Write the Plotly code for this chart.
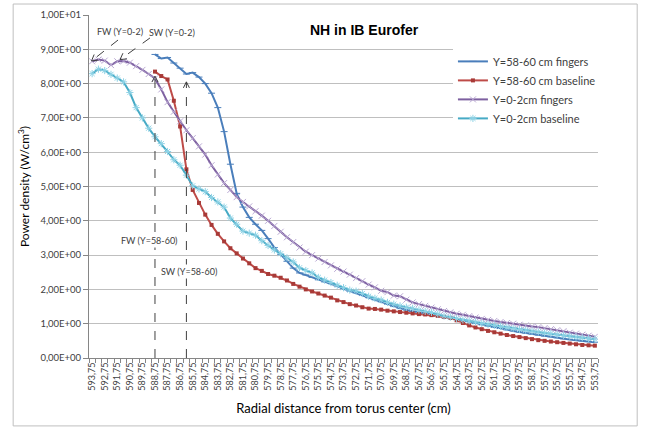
import plotly.graph_objects as go

# Radial distance categories (cm), every 0.5 cm
radial = [593.75, 593.25, 592.75, 592.25, 591.75, 591.25, 590.75, 590.25, 589.75, 589.25,
          588.75, 588.25, 587.75, 587.25, 586.75, 586.25, 585.75, 585.25, 584.75, 584.25,
          583.75, 583.25, 582.75, 582.25, 581.75, 581.25, 580.75, 580.25, 579.75, 579.25,
          578.75, 578.25, 577.75, 577.25, 576.75, 576.25, 575.75, 575.25, 574.75, 574.25,
          573.75, 573.25, 572.75, 572.25, 571.75, 571.25, 570.75, 570.25, 569.75, 569.25,
          568.75, 568.25, 567.75, 567.25, 566.75, 566.25, 565.75, 565.25, 564.75, 564.25,
          563.75, 563.25, 562.75, 562.25, 561.75, 561.25, 560.75, 560.25, 559.75, 559.25,
          558.75, 558.25, 557.75, 557.25, 556.75, 556.25, 555.75, 555.25, 554.75, 554.25,
          553.75]

N = None
y58_fingers = [N, N, N, N, N, N, N, N, N, N,
               8.85, 8.73, 8.76, 8.60, 8.45, 8.28, 8.32, 8.19, 8.00, 7.72,
               7.30, 6.60, 5.65, 4.80, 4.40, 4.10, 3.90, 3.72, 3.48, 3.22,
               3.02, 2.82, 2.62, 2.48, 2.42, 2.35, 2.28, 2.22, 2.18, 2.10,
               2.02, 1.95, 1.90, 1.83, 1.76, 1.70, 1.64, 1.57, 1.50, 1.44,
               1.40, 1.36, 1.33, 1.30, 1.27, 1.24, 1.21, 1.19, 1.14, 1.10,
               1.06, 1.01, 0.97, 0.93, 0.89, 0.86, 0.82, 0.79, 0.76, 0.73,
               0.70, 0.67, 0.64, 0.62, 0.59, 0.56, 0.54, 0.52, 0.50, 0.48,
               0.46]

y58_baseline = [N, N, N, N, N, N, N, N, N, N,
                8.35, 8.22, 8.12, 7.50, 6.75, 5.50, 4.90, 4.52, 4.18, 3.88,
                3.62, 3.40, 3.20, 3.05, 2.90, 2.76, 2.62, 2.54, 2.45, 2.40,
                2.34, 2.26, 2.16, 2.08, 2.00, 1.94, 1.88, 1.82, 1.76, 1.68,
                1.63, 1.57, 1.53, 1.48, 1.44, 1.43, 1.41, 1.38, 1.36, 1.34,
                1.32, 1.30, 1.28, 1.27, 1.25, 1.23, 1.20, 1.17, 1.10, 1.02,
                0.95, 0.89, 0.84, 0.79, 0.75, 0.71, 0.67, 0.64, 0.61, 0.58,
                0.55, 0.52, 0.50, 0.48, 0.46, 0.44, 0.42, 0.40, 0.38, 0.37,
                0.36]

y02_fingers = [8.65, 8.70, 8.67, 8.54, 8.65, 8.66, 8.61, 8.51, 8.40, 8.28,
               8.15, 7.83, 7.46, 7.18, 6.90, 6.64, 6.41, 6.17, 5.93, 5.62,
               5.35, 5.10, 4.90, 4.69, 4.55, 4.42, 4.28, 4.15, 4.00, 3.85,
               3.68, 3.52, 3.38, 3.22, 3.10, 3.00, 2.90, 2.80, 2.70, 2.60,
               2.52, 2.43, 2.33, 2.24, 2.14, 2.06, 1.96, 1.92, 1.82, 1.80,
               1.70, 1.62, 1.57, 1.52, 1.47, 1.42, 1.37, 1.33, 1.29, 1.26,
               1.22, 1.18, 1.14, 1.11, 1.08, 1.05, 1.02, 1.00, 0.97, 0.95,
               0.92, 0.90, 0.87, 0.84, 0.81, 0.78, 0.74, 0.71, 0.68, 0.65,
               0.62]

y02_baseline = [8.29, 8.42, 8.38, 8.27, 8.16, 8.05, 7.74, 7.30, 7.00, 6.70,
                6.45, 6.25, 6.02, 5.78, 5.62, 5.33, 5.02, 4.93, 4.85, 4.68,
                4.55, 4.40, 4.08, 3.90, 3.70, 3.64, 3.58, 3.42, 3.28, 3.15,
                3.04, 2.92, 2.80, 2.63, 2.55, 2.48, 2.35, 2.27, 2.20, 2.12,
                2.05, 1.98, 1.95, 1.88, 1.80, 1.74, 1.69, 1.62, 1.57, 1.52,
                1.48, 1.45, 1.40, 1.36, 1.33, 1.28, 1.22, 1.19, 1.15, 1.11,
                1.08, 1.05, 1.01, 0.98, 0.95, 0.92, 0.89, 0.86, 0.83, 0.81,
                0.78, 0.76, 0.73, 0.71, 0.68, 0.66, 0.64, 0.61, 0.59, 0.57,
                0.55]

series_names = ["Y=58-60 cm fingers", "Y=58-60 cm baseline", "Y=0-2cm fingers", "Y=0-2cm baseline"]

x_tick_values = [593.75 - k for k in range(41)]
x_tick_labels = [f"{v:.2f}".replace(".", ",") for v in x_tick_values]
y_tick_values = [0, 1, 2, 3, 4, 5, 6, 7, 8, 9, 10]
y_tick_labels = ["0,00E+00", "1,00E+00", "2,00E+00", "3,00E+00", "4,00E+00", "5,00E+00",
                 "6,00E+00", "7,00E+00", "8,00E+00", "9,00E+00", "1,00E+01"]

FONT = "Lato, 'Open Sans', sans-serif"
TXT = "#404040"

fig = go.Figure()
fig.add_trace(go.Scatter(x=radial, y=y58_fingers, name=series_names[0], mode="lines+markers",
                         line=dict(color="#4A7EBB", width=2),
                         marker=dict(symbol="line-ew", size=5, color="#4A7EBB",
                                     line=dict(width=1, color="#4A7EBB"))))
fig.add_trace(go.Scatter(x=radial, y=y58_baseline, name=series_names[1], mode="lines+markers",
                         line=dict(color="#BE4B48", width=2),
                         marker=dict(symbol="square", size=4, color="#A83A37")))
fig.add_trace(go.Scatter(x=radial, y=y02_fingers, name=series_names[2], mode="lines+markers",
                         line=dict(color="#7D60A0", width=2),
                         marker=dict(symbol="x-thin", size=6, color="#B9A8D3",
                                     line=dict(width=1, color="#B9A8D3"))))
fig.add_trace(go.Scatter(x=radial, y=y02_baseline, name=series_names[3], mode="lines+markers",
                         line=dict(color="#46AAC5", width=2),
                         marker=dict(symbol="asterisk", size=6, color="#8FD3E6",
                                     line=dict(width=1, color="#8FD3E6"))))

dash_col = "#404040"
dash_line = dict(color=dash_col, width=1, dash="dash")
head_line = dict(color=dash_col, width=1)
shapes = [
    # outer frame
    dict(type="rect", xref="paper", yref="paper", x0=-0.149, x1=1.077, y0=-0.198, y1=1.032,
         line=dict(color="#BFBFBF", width=1), layer="below"),
    # FW (Y=0-2) dashed arrow
    dict(type="line", xref="x", yref="y", x0=591.69, y0=9.27, x1=593.80, y1=8.66, line=dash_line),
    dict(type="path", xref="x", yref="y", path="M 593.25,8.687 L 593.80,8.66 L 593.59,8.848",
         line=head_line),
    # SW (Y=0-2)
    dict(type="line", xref="x", yref="y", x0=589.15, y0=9.33, x1=591.53, y1=8.70, line=dash_line),
    dict(type="path", xref="x", yref="y", path="M 590.98,8.721 L 591.53,8.70 L 591.30,8.886",
         line=head_line),
    # FW (Y=58-60) vertical
    dict(type="line", xref="x", yref="y", x0=588.75, y0=0, x1=588.75, y1=8.22, line=dash_line),
    dict(type="path", xref="x", yref="y", path="M 588.99,8.045 L 588.75,8.22 L 588.51,8.045",
         line=head_line),
    # SW (Y=58-60) vertical
    dict(type="line", xref="x", yref="y", x0=586.25, y0=0, x1=586.25, y1=8.05, line=dash_line),
    dict(type="path", xref="x", yref="y", path="M 586.49,7.875 L 586.25,8.05 L 586.01,7.875",
         line=head_line),
]

ann_font = dict(family=FONT, size=9, color=TXT)
annotations = [
    dict(x=591.53, y=9.53, xref="x", yref="y", text="FW (Y=0-2)", showarrow=False, font=ann_font),
    dict(x=587.40, y=9.48, xref="x", yref="y", text="SW (Y=0-2)", showarrow=False, font=ann_font),
    dict(x=589.15, y=3.44, xref="x", yref="y", text="FW (Y=58-60)", showarrow=False, font=ann_font,
         bgcolor="white"),
    dict(x=586.04, y=2.51, xref="x", yref="y", text="SW (Y=58-60)", showarrow=False, font=ann_font,
         bgcolor="white"),
    # title
    dict(x=0.542, y=0.956, xref="paper", yref="paper", xanchor="center", yanchor="middle",
         text="<b>NH in IB Eurofer</b>", showarrow=False,
         font=dict(family="Liberation Sans, Arial, sans-serif", size=14, color="#000000")),
]

fig.update_layout(
    width=646, height=428,
    margin=dict(l=89, r=48, t=15, b=70),
    paper_bgcolor="white", plot_bgcolor="white",
    font=dict(family=FONT, size=10, color=TXT),
    shapes=shapes, annotations=annotations,
    showlegend=True,
    legend=dict(x=0.715, y=0.907, xanchor="left", yanchor="top", bgcolor="white",
                font=dict(family=FONT, size=11, color=TXT), tracegroupgap=0, itemwidth=30),
    xaxis=dict(range=[594.0, 553.5], tickmode="array", tickvals=x_tick_values, ticktext=x_tick_labels,
               tickangle=-90, tickfont=dict(family=FONT, size=9, color=TXT), ticks="",
               showgrid=False, zeroline=False, showline=True, linecolor="#868686", linewidth=1,
               automargin=False,
               minor=dict(tick0=594.0, dtick=0.5, ticks="outside", ticklen=4, tickcolor="#868686",
                          showgrid=False),
               title=dict(text="Radial distance from torus center (cm)",
                          font=dict(family=FONT, size=13, color="#000000"), standoff=14)),
    yaxis=dict(range=[0, 10], tickmode="array", tickvals=y_tick_values, ticktext=y_tick_labels,
               tickfont=dict(family=FONT, size=9.5, color=TXT), ticks="outside", ticklen=5,
               tickcolor="#868686", showgrid=True, gridcolor="#BFBFBF", gridwidth=1,
               zeroline=False, showline=True, linecolor="#868686", linewidth=1,
               automargin=False,
               title=dict(text="Power density (W/cm<sup>3</sup>)",
                          font=dict(family=FONT, size=12, color="#000000"), standoff=8)),
)

fig.write_html("out.html", config={"displayModeBar": False},
               post_script="document.body.style.margin='0';")
